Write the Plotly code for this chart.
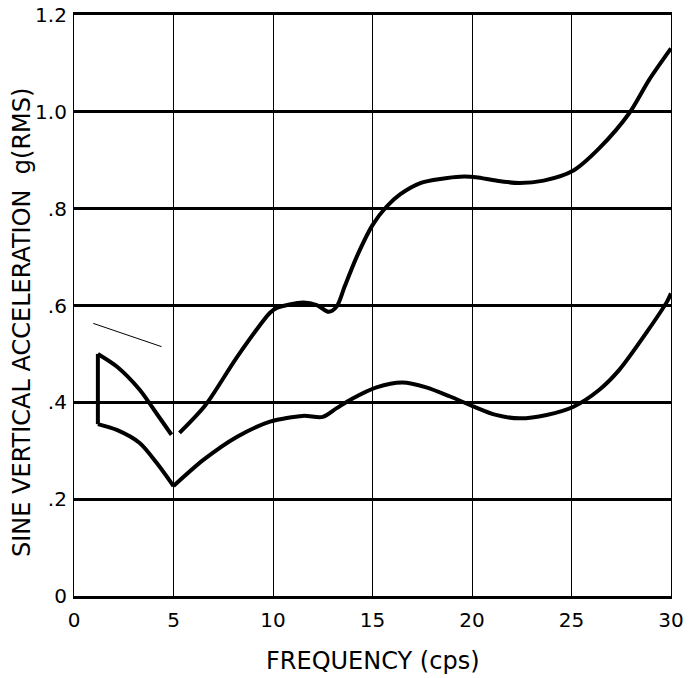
"""Sine vertical acceleration vs frequency, redrawn from a scanned chart."""

import plotly.graph_objects as go

# upper curve: joining stroke at 1 cps, short falling branch, then the rising branch
upper_x = [1.2, 1.2, None,
           1.2, 2.15, 3.3, 4.15, 4.9, None,
           5.3, 6.6, 8.2, 9.85, 10.2, 11.5, 12.2, 12.8, 13.2, 13.6, 14.2, 15.0,
           15.7, 16.4, 17.4, 18.5, 19.4, 20.2, 21.2, 22.4, 23.6, 25.1, 26.4,
           27.9, 28.9, 30.0]
upper_y = [0.355, 0.50, None,
           0.50, 0.474, 0.426, 0.377, 0.333, None,
           0.337, 0.394, 0.494, 0.585, 0.595, 0.606, 0.601, 0.587, 0.598, 0.639,
           0.70, 0.766, 0.804, 0.830, 0.853, 0.862, 0.866, 0.865, 0.858, 0.853,
           0.858, 0.879, 0.925, 0.997, 1.066, 1.131]

lower_x = [1.2, 2.15, 3.3, 4.15, 5.0, None,
           5.0, 6.5, 8.2, 9.85, 11.5, 12.5, 13.2, 14.0,
           15.2, 16.5, 17.7, 18.9, 20.1, 21.2, 22.4, 23.75, 25.1, 26.4, 27.4,
           28.8, 29.8, 30.0]
lower_y = [0.355, 0.343, 0.316, 0.275, 0.227, None,
           0.227, 0.281, 0.329, 0.36, 0.372, 0.37,
           0.388, 0.408, 0.431, 0.441, 0.431, 0.412, 0.391, 0.374, 0.367, 0.374,
           0.391, 0.426, 0.467, 0.546, 0.608, 0.625]

# faint pencil stroke above the start of the curves
mark_x = [0.97, 4.4]
mark_y = [0.563, 0.515]

x_ticks = [0, 5, 10, 15, 20, 25, 30]
x_labels = ["0", "5", "10", "15", "20", "25", "30"]
y_ticks = [0, 0.2, 0.4, 0.6, 0.8, 1.0, 1.2]
y_labels = ["0", ".2", ".4", ".6", ".8", "1.0", "1.2"]

FONT = "DejaVu Sans"

fig = go.Figure()
fig.add_trace(go.Scatter(x=upper_x, y=upper_y, mode="lines",
                         line=dict(color="black", width=4, shape="spline",
                                   smoothing=0.8),
                         connectgaps=False, showlegend=False))
fig.add_trace(go.Scatter(x=lower_x, y=lower_y, mode="lines",
                         line=dict(color="black", width=4, shape="spline",
                                   smoothing=0.8),
                         connectgaps=False, showlegend=False))
fig.add_trace(go.Scatter(x=mark_x, y=mark_y, mode="lines",
                         line=dict(color="black", width=1),
                         showlegend=False))

fig.update_xaxes(range=[0, 30], tickvals=x_ticks, ticktext=x_labels,
                 showgrid=True, gridcolor="black", gridwidth=1.2,
                 showline=True, linecolor="black", linewidth=3, mirror=True,
                 zeroline=False, ticks="", ticklabelstandoff=4,
                 automargin=False,
                 tickfont=dict(family=FONT, size=20, color="black"))
fig.update_yaxes(range=[0, 1.2], tickvals=y_ticks, ticktext=y_labels,
                 showgrid=True, gridcolor="black", gridwidth=3,
                 showline=True, linecolor="black", linewidth=1.2, mirror=True,
                 zeroline=False, ticks="", ticklabelstandoff=2,
                 automargin=False,
                 tickfont=dict(family=FONT, size=20, color="black"))

fig.add_annotation(text="SINE VERTICAL ACCELERATION  g(RMS)",
                   xref="paper", yref="paper", x=-0.087, y=0.47,
                   xanchor="center", yanchor="middle",
                   textangle=-90, showarrow=False,
                   font=dict(family=FONT, size=24, color="black"))
fig.add_annotation(text="FREQUENCY (cps)",
                   xref="paper", yref="paper", x=0.50, y=-0.112,
                   xanchor="center", yanchor="middle",
                   showarrow=False,
                   font=dict(family=FONT, size=24, color="black"))

fig.update_layout(width=689, height=678,
                  margin=dict(l=74, r=18, t=15, b=82),
                  plot_bgcolor="white", paper_bgcolor="white")

# drop the default body margin so the figure sits at the window corner
fig.write_html("out.html", config={"displayModeBar": False},
               post_script="document.body.style.margin='0px';")
